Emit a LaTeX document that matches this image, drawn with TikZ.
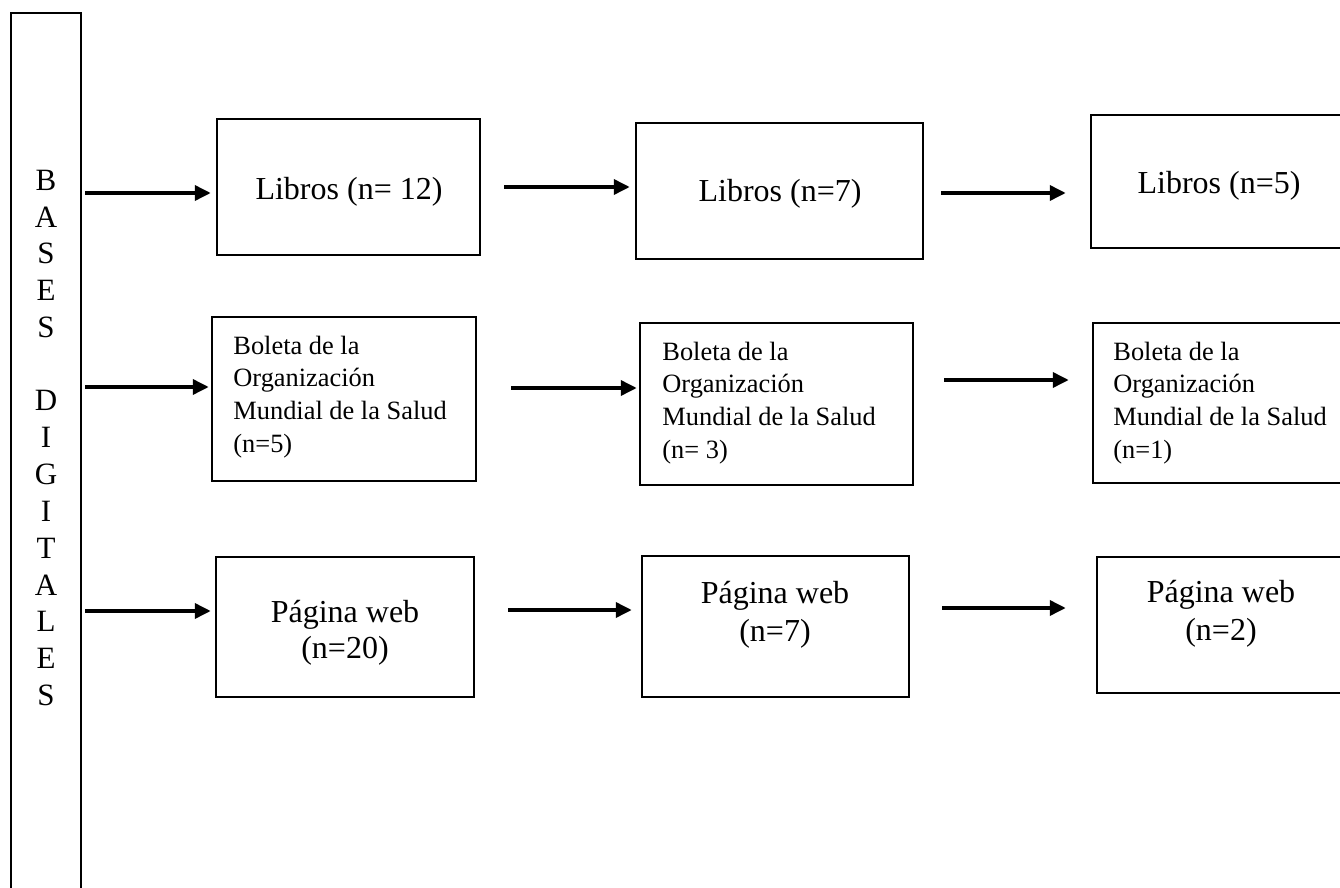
\documentclass[tikz,border=0pt]{standalone}
\usepackage{fontspec}
\setmainfont{Liberation Serif}
\usetikzlibrary{arrows.meta,fit}
\begin{document}
\begin{tikzpicture}[x=0.5pt,y=-0.5pt,
  box/.style={draw, line width=1.25pt, inner sep=0pt, rectangle},
  arr/.style={line width=1.8pt, -{Triangle[length=8pt,width=7.5pt]}},
  big/.style={inner sep=0pt, anchor=base, font=\fontsize{16}{19}\selectfont},
  small/.style={inner sep=0pt, anchor=base west, font=\fontsize{13.2}{16}\selectfont},
  letter/.style={inner sep=0pt, font=\fontsize{15.5}{18}\selectfont}]
\useasboundingbox (0,0) rectangle (1340,888);
\clip (0,0) rectangle (1340,888);

% left column
\node[box, fit={(11,13) (81,900)}] (bases) {};
\foreach \l/\i in {B/0,A/1,S/2,E/3,S/4,D/6,I/7,G/8,I/9,T/10,A/11,L/12,E/13,S/14}
  \node[letter] (ch\i) at (46,{180+36.8*\i}) {\l};

% row 1: Libros
\node[box, fit={(217,119) (480,255)}] (l1) {};
\node[box, fit={(636,123) (923,259)}] (l2) {};
\node[box, fit={(1091,115) (1348,248)}] (l3) {};
\node[big] (l1t) at (349,199) {Libros (n= 12)};
\node[big] (l2t) at (780,202) {Libros (n=7)};
\node[big] (l3t) at (1219,193) {Libros (n=5)};

% row 2: Boleta
\node[box, fit={(212,317) (476,481)}] (b1) {};
\node[box, fit={(640,323) (913,485)}] (b2) {};
\node[box, fit={(1093,323) (1348,483)}] (b3) {};
\node[small] (b1a) at (233,354) {Boleta de la};
\node[small] (b1b) at (233,386.7) {Organización};
\node[small] (b1c) at (233,419.4) {Mundial de la Salud};
\node[small] (b1d) at (233,452.1) {(n=5)};
\node[small] (b2a) at (662,360) {Boleta de la};
\node[small] (b2b) at (662,392.7) {Organización};
\node[small] (b2c) at (662,425.4) {Mundial de la Salud};
\node[small] (b2d) at (662,458.1) {(n= 3)};
\node[small] (b3a) at (1113,360) {Boleta de la};
\node[small] (b3b) at (1113,392.7) {Organización};
\node[small] (b3c) at (1113,425.4) {Mundial de la Salud};
\node[small] (b3d) at (1113,458.1) {(n=1)};

% row 3: Pagina web
\node[box, fit={(216,557) (474,697)}] (p1) {};
\node[box, fit={(642,556) (909,697)}] (p2) {};
\node[box, fit={(1097,557) (1348,693)}] (p3) {};
\node[big] (p1a) at (345,622) {Página web};
\node[big] (p1b) at (345,658) {(n=20)};
\node[big] (p2a) at (775,603) {Página web};
\node[big] (p2b) at (775,641) {(n=7)};
\node[big] (p3a) at (1221,602) {Página web};
\node[big] (p3b) at (1221,640) {(n=2)};

% arrow rows
\coordinate (ra1) at (0,193);
\coordinate (ra2) at (0,187);
\coordinate (ra3) at (0,193);
\coordinate (rb1) at (0,387);
\coordinate (rb2) at (0,388);
\coordinate (rb3) at (0,380);
\coordinate (rc1) at (0,611);
\coordinate (rc2) at (0,610);
\coordinate (rc3) at (0,608);

\draw[arr, shorten <=1.5pt, shorten >=2.5pt] (bases.east |- ra1) -- (l1.west |- ra1);
\draw[arr, shorten <=11.5pt, shorten >=2.5pt] (l1.east |- ra2) -- (l2.west |- ra2);
\draw[arr, shorten <=8.5pt, shorten >=12pt] (l2.east |- ra3) -- (l3.west |- ra3);

\draw[arr, shorten <=1.5pt, shorten >=1pt] (bases.east |- rb1) -- (b1.west |- rb1);
\draw[arr, shorten <=17pt, shorten >=1pt] (b1.east |- rb2) -- (b2.west |- rb2);
\draw[arr, shorten <=15pt, shorten >=11.5pt] (b2.east |- rb3) -- (b3.west |- rb3);

\draw[arr, shorten <=1.5pt, shorten >=2pt] (bases.east |- rc1) -- (p1.west |- rc1);
\draw[arr, shorten <=16.5pt, shorten >=4.5pt] (p1.east |- rc2) -- (p2.west |- rc2);
\draw[arr, shorten <=16pt, shorten >=15pt] (p2.east |- rc3) -- (p3.west |- rc3);
\end{tikzpicture}
\end{document}
